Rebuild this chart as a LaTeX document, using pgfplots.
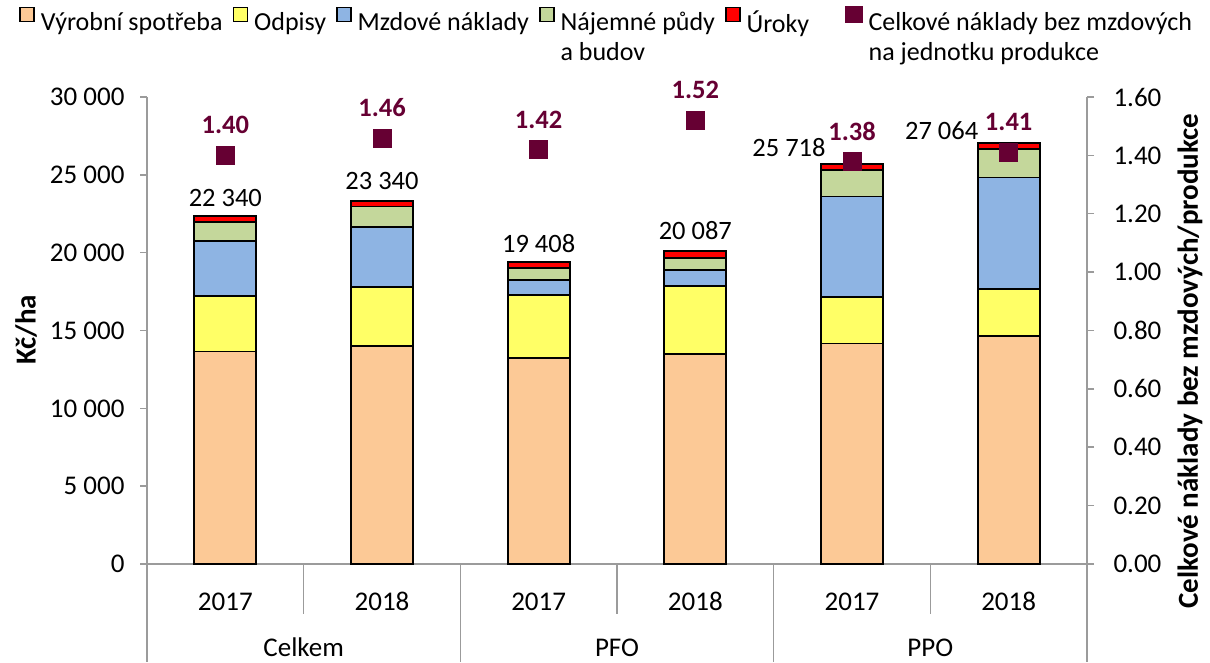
\documentclass[border=0pt]{standalone}
\usepackage{fontspec}
\setmainfont{Carlito}
\usepackage{pgfplots}
\pgfplotsset{compat=1.18}
\definecolor{cOrange}{RGB}{252,201,150}
\definecolor{cYellow}{RGB}{255,255,102}
\definecolor{cBlue}{RGB}{142,180,227}
\definecolor{cGreen}{RGB}{196,215,155}
\definecolor{cRed}{RGB}{255,0,0}
\definecolor{cMaroon}{RGB}{102,0,51}
\definecolor{axgray}{RGB}{155,155,155}
\newcommand{\fs}{\fontsize{26.5}{30}\selectfont}
\newcommand{\fl}{\fontsize{26}{30}\selectfont}
\newcommand{\ft}{\fontsize{27}{31}\selectfont}
\newcommand{\fb}{\fontsize{29}{33}\selectfont\bfseries}
\begin{document}
\begin{tikzpicture}[font=\fs]
\useasboundingbox (0,0) rectangle (1210pt,662pt);
\begin{axis}[
  at={(147pt,98pt)}, anchor=south west,
  width=940pt, height=467pt, scale only axis,
  xmin=-0.5, xmax=5.5, ymin=0, ymax=30000,
  ybar stacked, bar width=62pt,
  axis x line*=bottom, axis y line*=left,
  axis line style={draw=axgray, line width=1.5pt, -},
  xtick={0,1,2,3,4,5},
  xticklabels={2017,2018,2017,2018,2017,2018},
  x tick label style={anchor=base, yshift=-39pt, font=\ft},
  x tick style={draw=none},
  ytick={0,5000,10000,15000,20000,25000,30000},
  tick align=outside, major tick length=7pt,
  y tick style={draw=axgray, line width=1.5pt},
  y tick label style={font=\ft, xshift=-12pt},
  scaled y ticks=false,
  /pgf/number format/assume math mode=true,
  /pgf/number format/1000 sep={\ },
  clip=false,
  legend columns=6,
  legend style={draw=none, fill=none, inner sep=0pt, font=\fl,
    at={(axis description cs:-0.136,1.195)}, anchor=north west,
    nodes={inner xsep=1pt, inner ysep=1pt},
    /tikz/every odd column/.append style={column sep=5pt},
    /tikz/every even column/.append style={column sep=9pt}},
  legend image code/.code={\draw[#1, line width=1.6pt] (0pt,1pt) rectangle (14pt,15pt);},
]
\addplot[fill=cOrange, draw=black, line width=1.8pt] coordinates {(0,13650) (1,14030) (2,13220) (3,13480) (4,14160) (5,14630)};
\addlegendentry{Výrobní spotřeba}
\addplot[fill=cYellow, draw=black, line width=1.8pt] coordinates {(0,3560) (1,3740) (2,4080) (3,4370) (4,3010) (5,3050)};
\addlegendentry{Odpisy}
\addplot[fill=cBlue, draw=black, line width=1.8pt] coordinates {(0,3520) (1,3880) (2,940) (3,1060) (4,6440) (5,7150)};
\addlegendentry{Mzdové náklady}
\addplot[fill=cGreen, draw=black, line width=1.8pt] coordinates {(0,1240) (1,1310) (2,770) (3,770) (4,1710) (5,1820)};
\addlegendentry{\vtop{\hbox{Nájemné půdy}\hbox{a budov}}}
\addplot[fill=cRed, draw=black, line width=1.8pt] coordinates {(0,370) (1,380) (2,398) (3,407) (4,398) (5,414)};
\addlegendentry{Úroky\hspace*{26pt}}
\addlegendimage{legend image code/.code={\fill[cMaroon] (0pt,0pt) rectangle (17pt,16pt);}}
\addlegendentry{\vtop{\hbox{Celkové náklady bez mzdových}\hbox{na jednotku produkce}}}
% totals
\node[anchor=center, yshift=18pt] at (axis cs:0,22340) {22 340};
\node[anchor=center, yshift=20pt] at (axis cs:1,23340) {23 340};
\node[anchor=center, yshift=18pt] at (axis cs:2,19408) {19 408};
\node[anchor=center, yshift=21pt] at (axis cs:3,20087) {20 087};
\node[anchor=center, xshift=-63pt, yshift=16pt] at (axis cs:4,25718) {25 718};
\node[anchor=center, xshift=-67pt, yshift=12pt] at (axis cs:5,27064) {27 064};
% separators
\draw[axgray, line width=1.5pt] (axis cs:0.5,0) -- ++(0pt,-50pt);
\draw[axgray, line width=1.5pt] (axis cs:2.5,0) -- ++(0pt,-50pt);
\draw[axgray, line width=1.5pt] (axis cs:4.5,0) -- ++(0pt,-50pt);
\draw[axgray, line width=1.5pt] (axis cs:-0.5,0) -- ++(0pt,-98pt);
\draw[axgray, line width=1.5pt] (axis cs:1.5,0) -- ++(0pt,-98pt);
\draw[axgray, line width=1.5pt] (axis cs:3.5,0) -- ++(0pt,-98pt);
\draw[axgray, line width=1.5pt] (axis cs:5.5,0) -- ++(0pt,-98pt);
% group labels
\node[anchor=base, yshift=-92pt, font=\ft] at (axis cs:0.5,0) {Celkem};
\node[anchor=base, yshift=-92pt, font=\ft] at (axis cs:2.5,0) {PFO};
\node[anchor=base, yshift=-92pt, font=\ft] at (axis cs:4.5,0) {PPO};
\end{axis}
\begin{axis}[
  at={(147pt,98pt)}, anchor=south west,
  width=940pt, height=467pt, scale only axis,
  xmin=-0.5, xmax=5.5, ymin=0, ymax=1.6,
  axis x line=none, axis y line*=right,
  axis line style={draw=axgray, line width=1.5pt, -},
  ytick={0,0.2,0.4,0.6,0.8,1.0,1.2,1.4,1.6},
  tick align=outside, major tick length=7pt,
  y tick style={draw=axgray, line width=1.5pt},
  y tick label style={font=\ft, xshift=16pt,
    /pgf/number format/.cd, fixed, fixed zerofill, precision=2, assume math mode=true},
  clip=false,
]
\addplot[only marks, mark=square*, mark size=9pt, color=cMaroon,
  point meta=y,
  nodes near coords={\pgfmathprintnumber[fixed,fixed zerofill,precision=2,assume math mode=true]{\pgfplotspointmeta}},
  nodes near coords style={anchor=center, yshift=30pt, font=\fs\bfseries, text=cMaroon}]
  coordinates {(0,1.40) (1,1.46) (2,1.42) (3,1.52) (4,1.38) (5,1.41)};
\end{axis}
\node[rotate=90, anchor=center, font=\fb] at (26pt,332pt) {Kč/ha};
\node[rotate=90, anchor=center, font=\fb] at (1190pt,301pt) {Celkové náklady bez mzdových/produkce};
\end{tikzpicture}
\end{document}
